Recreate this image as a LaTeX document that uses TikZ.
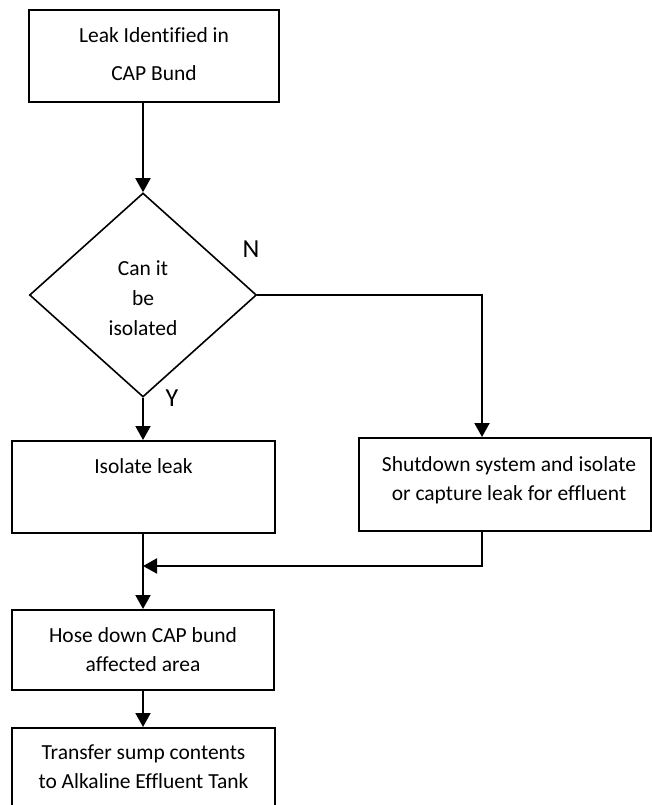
\documentclass[tikz,border=0pt]{standalone}
\usepackage{fontspec}
\setmainfont{Carlito}[Ligatures=CommonOff]
\usetikzlibrary{shapes.geometric,arrows.meta}
\begin{document}
\begin{tikzpicture}[x=1pt,y=-1pt,
  box/.style={draw, line width=2pt, inner sep=0pt},
  txt/.style={align=center, inner sep=0pt, font=\fontsize{21.5}{29}\selectfont},
  yn/.style={inner sep=0pt, font=\fontsize{26}{30}\selectfont},
  arr/.style={line width=2pt, -{Triangle[width=15pt,length=14pt]}}]
\useasboundingbox (0,0) rectangle (652,805);
\clip (0,0) rectangle (652,805);

% process boxes and decision
\node (leak) [box, minimum width=250pt, minimum height=92pt] at (154,56) {};
\node (leaktxt) [txt, font=\fontsize{21.5}{38}\selectfont] at (154,54) {Leak Identified in\\CAP Bund};

\node (dec) [draw, diamond, line width=1.6pt, minimum width=227pt, minimum height=204pt, inner sep=0pt] at (143,295) {};
\node (dectxt) [txt, font=\fontsize{21.5}{30}\selectfont] at (143,298) {Can it\\be\\isolated};

\node (iso) [box, minimum width=263pt, minimum height=92pt] at (143.5,487) {};
\node (isotxt) [txt] at (143.5,466) {Isolate leak};

\node (shut) [box, minimum width=292pt, minimum height=93pt] at (505,484.5) {};
\node (shuttxt) [txt] at (509,480) {Shutdown system and isolate\\or capture leak for effluent};

\node (hose) [box, minimum width=262pt, minimum height=80pt] at (143,650) {};
\node (hosetxt) [txt] at (143,650) {Hose down CAP bund\\affected area};

\node (xfer) [box, minimum width=263pt, minimum height=120pt] at (143.5,788) {};
\node (xfertxt) [txt] at (143.5,767) {Transfer sump contents\\to Alkaline Effluent Tank};

% branch labels
\node (nlab) [yn] at (251,249) {N};
\node (ylab) [yn] at (172,398) {Y};

% connectors
\coordinate (nx) at (482,295);
\coordinate (mj) at (482,566);
\draw[arr] (dec.north |- leak.south) -- (dec.north);
\draw[arr] (dec.east) -- (nx) -- (nx |- shut.north);
\draw[arr] (dec.south) -- (dec.south |- iso.north);
\draw[arr] (iso.south -| dec.south) -- (hose.north -| dec.south);
\draw[arr] (nx |- shut.south) -- (mj) -- (mj -| dec.south);
\draw[arr] (hose.south -| dec.south) -- (xfer.north -| dec.south);
\end{tikzpicture}
\end{document}
